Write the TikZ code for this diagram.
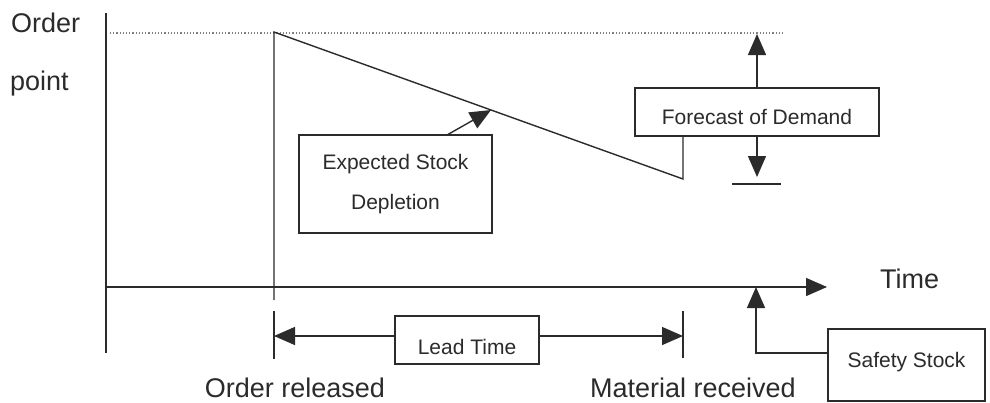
\documentclass[tikz,border=0pt]{standalone}
\usepackage{fontspec}
\setmainfont{Liberation Sans}
\usetikzlibrary{arrows.meta}
\definecolor{ink}{HTML}{2B2B2B}
\tikzset{
  line/.style={draw=ink, line width=1.4pt},
  tip/.style={-{Triangle[length=21pt,width=18pt]}},
  box/.style={draw=ink, line width=1.4pt, rectangle, inner sep=0pt, text=ink,
              font=\fontsize{21}{40}\selectfont, align=center},
  biglabel/.style={inner sep=0pt, text=ink, font=\fontsize{27}{30}\selectfont},
}
\begin{document}
\begin{tikzpicture}[x=1pt,y=-1pt]
\useasboundingbox (0,0) rectangle (990,402);
\fill[white] (0,0) rectangle (990,402);

% axes
\coordinate (yTop) at (106,13);
\coordinate (yBot) at (106,353);
\coordinate (tStart) at (106,287);
\coordinate (tEnd) at (827,287);
\draw[line] (yTop) -- (yBot);
\draw[line, tip] (tStart) -- (tEnd);

% order point level
\coordinate (opL) at (110,33);
\coordinate (opR) at (785,33);
\draw[gray, line width=1.2pt, dotted] (opL) -- (opR);

% boxes
\node[box, minimum width=244pt, minimum height=48pt, text height=25pt, text depth=0pt]
  (fc) at (757,112) {Forecast of Demand};
\node[box, minimum width=193pt, minimum height=98pt]
  (esd) at (395.5,184) {Expected Stock\\Depletion};
\node[box, minimum width=144pt, minimum height=48pt, text height=28pt, text depth=0pt]
  (lt) at (467,340) {Lead Time};
\node[box, minimum width=157pt, minimum height=72pt, text height=10pt, text depth=6pt]
  (ss) at (906.5,365) {Safety Stock};

% release and stock depletion
\coordinate (relTop) at (274,32);
\coordinate (relAx) at (274,300);
\coordinate (relLo1) at (274,311);
\coordinate (relLo2) at (274,359);
\coordinate (dip) at (683,179);
\draw[line] (relAx) -- (relTop) -- (dip) -- (dip |- fc.south);
\draw[line] (relLo1) -- (relLo2);

% material received marker
\coordinate (recLo1) at (683,311);
\coordinate (recLo2) at (683,358);
\draw[line] (recLo1) -- (recLo2);

% lead time span
\coordinate (ltL) at (274,336);
\coordinate (ltR) at (683,336);
\draw[line, tip] (lt.west |- ltL) -- (ltL);
\draw[line, tip] (lt.east |- ltR) -- (ltR);

% depletion pointer
\coordinate (esdFrom) at (447,135);
\coordinate (esdTip) at (491,110);
\draw[line, tip] (esdFrom) -- (esdTip);

% forecast range
\coordinate (fcUp) at (757,34);
\coordinate (fcDown) at (757,177);
\coordinate (barL) at (732,184);
\coordinate (barR) at (781,184);
\draw[line, tip] (fc.north) -- (fcUp);
\draw[line, tip] (fc.south) -- (fcDown);
\draw[line] (barL) -- (barR);

% safety stock pointer
\coordinate (ssTurn) at (756,353);
\coordinate (ssTip) at (756,287);
\draw[line, tip] (ss.west |- ssTurn) -- (ssTurn) -- (ssTip);

% labels
\node[biglabel, anchor=base west] (lOrder) at (11,32) {Order};
\node[biglabel, anchor=base west] (lPoint) at (10,90) {point};
\node[biglabel, anchor=base west] (lTime) at (880,288) {Time};
\node[biglabel, anchor=base] (lRel) at (295,397) {Order released};
\node[biglabel, anchor=base] (lRec) at (693,397) {Material received};
\end{tikzpicture}
\end{document}
